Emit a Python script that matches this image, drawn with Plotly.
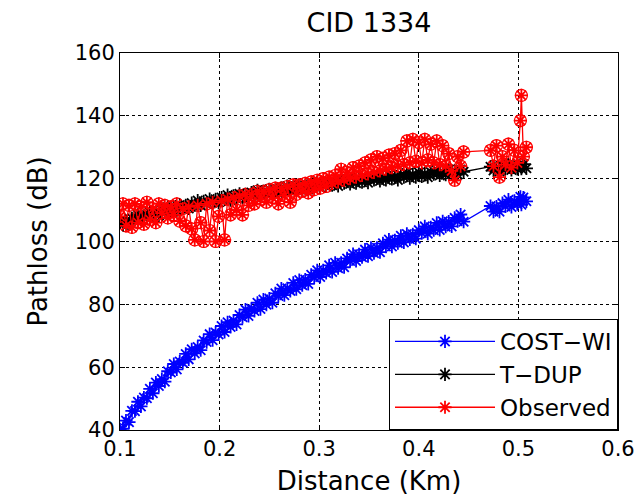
import plotly.graph_objects as go

# Distance from the cell site (km); shared by all three path-loss series
distance_km = [
    0.100, 0.103, 0.106, 0.109, 0.112, 0.115, 0.118, 0.121, 0.124, 0.127,
    0.130, 0.133, 0.136, 0.139, 0.142, 0.145, 0.148, 0.151, 0.154, 0.157,
    0.160, 0.163, 0.166, 0.169, 0.172, 0.175, 0.178, 0.181, 0.184, 0.187,
    0.190, 0.193, 0.196, 0.199, 0.202, 0.205, 0.208, 0.211, 0.214, 0.217,
    0.220, 0.223, 0.226, 0.229, 0.232, 0.235, 0.238, 0.241, 0.244, 0.247,
    0.250, 0.253, 0.256, 0.259, 0.262, 0.265, 0.268, 0.271, 0.274, 0.277,
    0.280, 0.283, 0.286, 0.289, 0.292, 0.295, 0.298, 0.301, 0.304, 0.307,
    0.310, 0.313, 0.316, 0.319, 0.322, 0.325, 0.328, 0.331, 0.334, 0.337,
    0.340, 0.343, 0.346, 0.349, 0.352, 0.355, 0.358, 0.361, 0.364, 0.367,
    0.370, 0.373, 0.376, 0.379, 0.382, 0.385, 0.388, 0.391, 0.394, 0.397,
    0.400, 0.403, 0.406, 0.409, 0.412, 0.415, 0.418, 0.421, 0.424, 0.427,
    0.430, 0.433, 0.436, 0.439, 0.442, 0.445,
    0.472, 0.475, 0.478, 0.481, 0.484, 0.487, 0.490, 0.493, 0.496, 0.499,
    0.502, 0.503, 0.505, 0.508,
]

# COST-Walfisch-Ikegami prediction (dB)
cost_wi_db = [
    40.2, 40.4, 43.0, 42.5, 46.1, 46.0, 49.0, 47.5, 50.3, 50.1,
    53.1, 51.7, 55.1, 54.0, 56.2, 55.4, 58.7, 58.3, 61.0, 59.3,
    61.8, 61.4, 64.2, 62.5, 65.7, 64.4, 66.4, 65.4, 68.5, 68.0,
    70.5, 68.6, 71.0, 70.4, 73.1, 71.2, 74.3, 72.8, 74.8, 73.6,
    76.6, 75.9, 78.3, 76.3, 78.6, 77.9, 80.5, 78.5, 81.5, 79.9,
    81.8, 80.5, 83.5, 82.7, 85.0, 82.9, 85.1, 84.3, 86.8, 84.8,
    87.7, 86.1, 87.9, 86.5, 89.4, 88.6, 90.8, 88.7, 90.8, 90.0,
    92.4, 90.3, 93.2, 91.5, 93.2, 91.8, 94.6, 93.8, 96.0, 93.8,
    95.9, 95.0, 97.4, 95.3, 98.0, 96.3, 98.0, 96.6, 99.4, 98.4,
    100.6, 98.4, 100.4, 99.5, 101.8, 99.7, 102.4, 100.7, 102.3, 100.9,
    103.6, 102.7, 104.8, 102.5, 104.5, 103.6, 105.9, 103.7, 106.4, 104.7,
    106.3, 104.8, 107.5, 106.5, 108.6, 106.3,
    111.3, 109.5, 111.1, 109.5, 112.2, 111.2, 113.3, 111.0, 112.9, 111.9,
    114.2, 111.7, 114.0, 112.8,
]

# T-DUP prediction (dB)
t_dup_db = [
    106.3, 105.3, 106.5, 105.6, 107.4, 106.9, 108.4, 107.0, 108.3, 107.6,
    109.3, 108.2, 109.3, 108.3, 110.1, 109.5, 110.9, 109.5, 110.8, 110.0,
    111.6, 110.5, 111.5, 110.5, 112.2, 111.6, 113.0, 111.5, 112.8, 112.0,
    113.5, 112.4, 113.4, 112.4, 114.0, 113.4, 114.8, 113.2, 114.5, 113.6,
    115.2, 114.1, 115.0, 114.0, 115.6, 114.9, 116.3, 114.7, 116.0, 115.1,
    116.6, 115.5, 116.4, 115.3, 117.0, 116.3, 117.6, 116.1, 117.3, 116.4,
    117.9, 116.7, 117.7, 116.6, 118.2, 117.5, 118.8, 117.2, 118.5, 117.6,
    119.1, 117.9, 118.8, 117.7, 119.3, 118.6, 119.9, 118.3, 119.5, 118.6,
    120.1, 118.9, 119.8, 118.7, 120.3, 119.6, 120.9, 119.3, 120.5, 119.6,
    121.1, 119.9, 120.8, 119.6, 121.2, 120.5, 121.8, 120.2, 121.4, 120.5,
    122.0, 120.7, 121.6, 120.5, 122.1, 121.4, 122.7, 121.0, 122.2, 121.3,
    122.8, 121.5, 122.4, 121.3, 122.9, 122.2,
    123.8, 122.6, 123.5, 122.3, 123.9, 123.2, 124.4, 122.8, 124.0, 123.1,
    124.5, 123.2, 124.6, 123.3,
]

# Measured drive-test path loss (dB)
observed_db = [
    108.0, 112.0, 105.0, 111.5, 104.5, 112.0, 106.0, 111.0, 105.5, 112.5,
    107.0, 110.5, 106.0, 112.0, 109.0, 111.5, 107.5, 111.0, 108.5, 112.0,
    106.5, 110.5, 105.0, 111.0, 104.0, 100.5, 111.5, 106.0, 100.0, 112.0,
    103.5, 112.5, 100.0, 108.0, 113.0, 100.5, 113.5, 108.5, 114.0, 110.0,
    114.5, 108.5, 115.0, 111.5, 115.0, 112.0, 116.0, 113.5, 116.0, 112.5,
    116.5, 114.0, 117.0, 112.0, 117.0, 114.5, 117.5, 112.5, 118.0, 115.0,
    118.0, 116.0, 118.5, 115.5, 119.0, 116.5, 119.5, 117.0, 120.0, 117.5,
    120.5, 118.5, 121.0, 119.0, 123.0, 119.5, 122.0, 120.0, 123.5, 120.5,
    124.0, 121.0, 125.0, 121.5, 126.0, 122.0, 127.0, 122.5, 126.5, 123.0,
    127.5, 123.5, 128.0, 124.0, 129.0, 124.5, 132.0, 125.0, 132.5, 125.5,
    131.5, 125.0, 132.5, 126.0, 131.0, 125.0, 132.0, 124.5, 130.5, 124.0,
    128.0, 122.5, 119.5, 127.0, 124.0, 128.5,
    129.0, 124.0, 130.5, 120.5, 127.0, 124.5, 131.0, 123.5, 129.0, 125.0,
    138.5, 146.5, 127.0, 130.0,
]

x_ticks = [0.1, 0.2, 0.3, 0.4, 0.5, 0.6]
y_ticks = [40, 60, 80, 100, 120, 140, 160]

FONT = "DejaVu Sans"

fig = go.Figure()

# measured samples are also ringed with open circles
fig.add_trace(go.Scatter(
    x=distance_km, y=observed_db, mode="markers", showlegend=False,
    marker=dict(symbol="circle-open", size=12, color="#ff0000",
                line=dict(width=1.2, color="#ff0000")),
    hoverinfo="skip",
))

series = [
    ("COST\u2212WI", cost_wi_db, "#0000ff"),
    ("T\u2212DUP", t_dup_db, "#000000"),
    ("Observed", observed_db, "#ff0000"),
]
for i, (name, values, colour) in enumerate(series):
    fig.add_trace(go.Scatter(
        x=distance_km, y=values, name=name, mode="lines+markers",
        legendgroup=f"g{i}",
        line=dict(color=colour, width=1.3),
        marker=dict(symbol="asterisk-open", size=11, color=colour,
                    line=dict(width=1.8, color=colour)),
    ))

axis_common = dict(
    showline=True, linecolor="black", linewidth=1, mirror="ticks",
    ticks="inside", ticklen=5, tickcolor="black",
    showgrid=True, gridcolor="black", gridwidth=1, griddash="dot",
    zeroline=False, tickfont=dict(family=FONT, size=21, color="black"),
)

fig.update_xaxes(
    range=[0.1, 0.6], tickvals=x_ticks, ticktext=[f"{v:.1f}" for v in x_ticks],
    title=dict(text="Distance (Km)", font=dict(family=FONT, size=26, color="black"),
               standoff=11),
    **axis_common,
)
fig.update_yaxes(
    range=[40, 160], tickvals=y_ticks,
    title=dict(text="Pathloss (dB)", font=dict(family=FONT, size=26, color="black"),
               standoff=19),
    **axis_common,
)

fig.update_layout(
    width=641, height=496,
    margin=dict(l=120, r=23, t=53, b=66, autoexpand=False),
    paper_bgcolor="white", plot_bgcolor="white",
    title=dict(text="CID 1334", x=0.5, xref="paper", y=0.955, yanchor="middle",
               font=dict(family=FONT, size=27, color="black")),
    showlegend=True,
    legend=dict(
        x=1, y=0, xanchor="right", yanchor="bottom",
        bgcolor="white", bordercolor="black", borderwidth=1,
        font=dict(family=FONT, size=23, color="black"),
        itemwidth=100, tracegroupgap=3, traceorder="normal",
    ),
)

fig.write_html("out.html")
